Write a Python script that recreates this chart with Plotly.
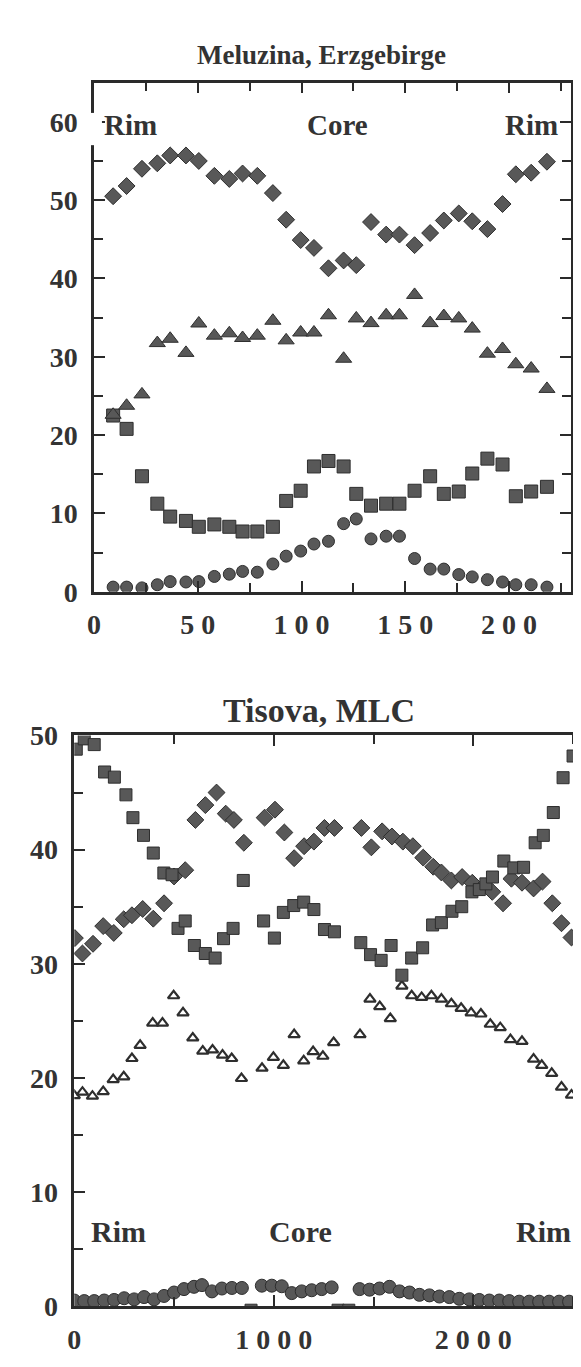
import plotly.graph_objects as go

# ---------------- Meluzina, Erzgebirge (top panel) ----------------
mel_x = [9.2, 15.7, 23.1, 30.5, 36.7, 44.3, 50.5, 58.0, 65.2, 71.6, 78.7, 86.2, 92.6,
         99.6, 106.0, 113.0, 120.3, 126.4, 133.5, 140.8, 147.2, 154.5, 162.0, 168.6,
         175.8, 182.3, 189.6, 196.9, 203.3, 210.7, 218.3]
mel_diamond = [50.5, 51.8, 54.0, 54.7, 55.7, 55.7, 55.0, 53.1, 52.7, 53.4, 53.1, 50.9, 47.5,
               44.9, 43.9, 41.3, 42.3, 41.7, 47.2, 45.6, 45.6, 44.25, 45.8, 47.4,
               48.3, 47.3, 46.3, 49.5, 53.3, 53.5, 54.9]
mel_triangle = [22.6, 23.75, 25.2, 31.75, 32.3, 30.5, 34.25, 32.7, 33.0, 32.4, 32.7, 34.6, 32.1,
                33.1, 33.1, 35.3, 29.75, 34.9, 34.3, 35.3, 35.3, 37.9, 34.3, 35.2,
                34.9, 33.6, 30.4, 31.0, 29.05, 28.5, 25.9]
mel_square = [22.5, 20.8, 14.75, 11.25, 9.6, 9.05, 8.3, 8.6, 8.3, 7.7, 7.7, 8.3, 11.6,
              12.9, 16.0, 16.7, 16.0, 12.5, 11.0, 11.25, 11.25, 12.9, 14.75, 12.5,
              12.8, 15.1, 17.0, 16.25, 12.2, 12.8, 13.4]
mel_circle = [0.6, 0.6, 0.5, 0.9, 1.3, 1.25, 1.3, 1.96, 2.25, 2.6, 2.5, 3.55, 4.55,
              5.2, 6.1, 6.45, 8.7, 9.3, 6.75, 7.1, 7.1, 4.25, 2.9, 2.9,
              2.2, 1.9, 1.55, 1.25, 0.9, 0.9, 0.6]
mel_xtick_vals = [0, 50, 100, 150, 200]
mel_xtick_text = ["0", "5 0", "1 0 0", "1 5 0", "2 0 0"]
mel_ytick_vals = [0, 10, 20, 30, 40, 50, 60]

# ---------------- Tisova, MLC (bottom panel) ----------------
tis_sq_x = [10, 50, 100, 152, 201, 259, 294, 347, 396, 449, 490, 520, 556, 602, 657, 706,
            748, 796, 847, 886, 949, 1003, 1048, 1100, 1150, 1201, 1254, 1304, 1322, 1376,
            1436, 1485, 1538, 1588, 1642, 1691, 1746, 1796, 1840, 1893, 1942, 1993, 2030,
            2063, 2096, 2153, 2203, 2252, 2310, 2351, 2401, 2450, 2500]
tis_sq_y = [48.8, 49.7, 49.2, 46.8, 46.35, 44.8, 42.8, 41.25, 39.7, 37.95, 37.8, 33.1, 33.75,
            31.6, 30.9, 30.5, 32.2, 33.1, 37.3, -0.35, 33.75, 32.25, 34.5, 35.1, 35.4, 34.75,
            33.0, 32.8, -0.35, -0.35, 31.85, 30.8, 30.3, 31.6, 29.0, 30.5, 31.4, 33.4, 33.6,
            34.6, 35.0, 36.3, 36.5, 37.0, 37.6, 39.0, 38.4, 38.45, 40.6, 41.25, 43.25, 46.3,
            48.2]
tis_di_x = [3, 41, 94, 145, 198, 248, 289, 343, 396, 450, 500, 556, 607, 657, 713, 759, 800,
            850, 954, 1006, 1053, 1102, 1152, 1201, 1254, 1304, 1439, 1489, 1543, 1592, 1647,
            1697, 1749, 1799, 1840, 1890, 1944, 1995, 2045, 2095, 2149, 2191, 2244, 2302,
            2347, 2396, 2442, 2492]
tis_di_y = [32.25, 30.9, 31.75, 33.3, 32.7, 33.9, 34.25, 34.8, 33.95, 35.3, 37.65, 38.2, 42.6,
            43.9, 45.0, 43.15, 42.6, 40.6, 42.8, 43.5, 41.5, 39.25, 40.3, 40.7, 41.9, 41.9,
            41.9, 40.2, 41.6, 41.15, 40.7, 40.3, 39.3, 38.5, 38.0, 37.3, 37.6, 37.1, 36.7,
            36.3, 35.3, 37.45, 37.1, 36.6, 37.2, 35.3, 33.55, 32.3]
tis_tr_x = [0, 41, 91, 145, 195, 248, 289, 330, 393, 442, 498, 545, 594, 644, 693, 743, 789,
            838, 941, 998, 1048, 1102, 1150, 1197, 1246, 1300, 1432, 1482, 1531, 1584, 1642,
            1691, 1741, 1790, 1840, 1890, 1939, 1989, 2038, 2085, 2135, 2186, 2244, 2302,
            2343, 2393, 2442, 2492]
tis_tr_y = [18.45, 18.75, 18.4, 18.8, 19.85, 20.1, 21.7, 22.85, 24.8, 24.8, 27.2, 25.7, 23.5,
            22.35, 22.45, 22.0, 21.7, 19.95, 20.85, 21.8, 21.1, 23.8, 21.5, 22.3, 21.9, 23.1,
            23.8, 26.9, 26.25, 25.2, 28.05, 27.2, 27.05, 27.2, 26.9, 26.5, 26.1, 25.7, 25.6,
            24.7, 24.4, 23.35, 23.2, 21.65, 21.1, 20.4, 19.2, 18.5]
tis_ci_x = [0, 50, 100, 150, 200, 250, 300, 350, 400, 450, 500, 550, 600, 640, 690, 740, 790,
            840, 940, 990, 1040, 1090, 1140, 1190, 1240, 1290, 1430, 1480, 1530, 1580, 1630,
            1680, 1730, 1780, 1830, 1880, 1930, 1980, 2030, 2080, 2130, 2180, 2230, 2280,
            2330, 2380, 2430, 2480]
tis_ci_y = [0.5, 0.45, 0.45, 0.5, 0.55, 0.7, 0.6, 0.8, 0.6, 0.9, 1.2, 1.5, 1.7, 1.85, 1.3,
            1.55, 1.6, 1.6, 1.8, 1.8, 1.75, 1.15, 1.3, 1.4, 1.5, 1.65, 1.5, 1.45, 1.55, 1.7,
            1.3, 1.2, 1.0, 0.95, 0.85, 0.8, 0.65, 0.6, 0.55, 0.5, 0.5, 0.45, 0.4, 0.4, 0.4,
            0.4, 0.4, 0.4]
tis_xtick_vals = [0, 1000, 2000]
tis_xtick_text = ["0", "1 0 0 0", "2 0 0 0"]
tis_ytick_vals = [0, 10, 20, 30, 40, 50]

FILL = "#585858"
EDGE = "#2e2e2e"
AX = "#2a2a2a"
FONT = "Liberation Serif"

W, H = 581, 1367
def px_x(p):
    return p / W
def px_y(p):
    return 1 - p / H

fig = go.Figure()

def mk(symbol, size, fill=FILL, lw=1):
    return dict(symbol=symbol, size=size, color=fill, line=dict(color=EDGE, width=lw))

# top panel traces
fig.add_trace(go.Scatter(x=mel_x, y=mel_square, mode="markers", marker=mk("square", 13), xaxis="x", yaxis="y"))
fig.add_trace(go.Scatter(x=mel_x, y=mel_circle, mode="markers", marker=mk("circle", 12), xaxis="x", yaxis="y"))
fig.add_trace(go.Scatter(x=mel_x, y=mel_triangle, mode="markers", marker=mk("triangle-up", 14), xaxis="x", yaxis="y"))
fig.add_trace(go.Scatter(x=mel_x, y=mel_diamond, mode="markers", marker=mk("diamond", 13), xaxis="x", yaxis="y"))

# bottom panel traces
fig.add_trace(go.Scatter(x=tis_ci_x, y=tis_ci_y, mode="markers", marker=mk("circle", 13), xaxis="x2", yaxis="y2"))
fig.add_trace(go.Scatter(x=tis_tr_x, y=tis_tr_y, mode="markers",
                         marker=dict(symbol="triangle-up-open", size=10, color=EDGE, line=dict(color=EDGE, width=2.2)),
                         xaxis="x2", yaxis="y2"))
fig.add_trace(go.Scatter(x=tis_di_x, y=tis_di_y, mode="markers", marker=mk("diamond", 13), xaxis="x2", yaxis="y2"))
fig.add_trace(go.Scatter(x=tis_sq_x, y=tis_sq_y, mode="markers", marker=mk("square", 12), xaxis="x2", yaxis="y2"))

tickfont = dict(family=FONT, size=28, color="#333", weight="bold")

def axis_common():
    return dict(showline=True, linecolor=AX, linewidth=2.5, mirror="allticks", ticks="inside",
                tickwidth=2, tickcolor=AX, ticklen=11, showgrid=False, zeroline=False,
                tickfont=tickfont, fixedrange=True)

fig.update_layout(
    width=W, height=H, margin=dict(l=0, r=0, t=0, b=0),
    paper_bgcolor="white", plot_bgcolor="white", showlegend=False,
    xaxis=dict(**axis_common(), domain=[px_x(80), px_x(563)], range=[0, 230],
               tickmode="array", tickvals=mel_xtick_vals, ticktext=mel_xtick_text,
               minor=dict(tickmode="linear", tick0=0, dtick=25, ticks="inside", ticklen=9,
                          tickwidth=2, tickcolor=AX),
               anchor="y", ticklabelstandoff=6),
    yaxis=dict(**axis_common(), domain=[px_y(582), px_y(61)], range=[0, 65],
               tickmode="array", tickvals=mel_ytick_vals,
               minor=dict(tickmode="linear", tick0=0, dtick=5, ticks="inside", ticklen=9,
                          tickwidth=2, tickcolor=AX),
               anchor="x", ticklabelstandoff=8),
    xaxis2=dict(**axis_common(), domain=[px_x(60), px_x(578)], range=[0, 2565],
                tickmode="array", tickvals=tis_xtick_vals, ticktext=tis_xtick_text,
                minor=dict(tickmode="linear", tick0=0, dtick=500, ticks="inside", ticklen=9,
                           tickwidth=2, tickcolor=AX),
                anchor="y2", ticklabelstandoff=6),
    yaxis2=dict(**axis_common(), domain=[px_y(1313), px_y(729)], range=[0, 50],
                tickmode="array", tickvals=tis_ytick_vals,
                minor=dict(tickmode="linear", tick0=0, dtick=5, ticks="inside", ticklen=9,
                           tickwidth=2, tickcolor=AX),
                anchor="x2", ticklabelstandoff=8),
)

# white gap in the left frame line behind the upper-left "Rim" label
fig.add_shape(type="rect", xref="paper", yref="paper", layer="above",
              x0=px_x(76), x1=px_x(88), y0=px_y(125), y1=px_y(92),
              fillcolor="white", line=dict(width=0))

def label(text, x, y, size):
    fig.add_annotation(text=text, x=px_x(x), y=px_y(y), xref="paper", yref="paper",
                       showarrow=False, xanchor="center", yanchor="middle",
                       font=dict(family=FONT, size=size, color="#333", weight="bold"))

label("Meluzina, Erzgebirge", 310, 33, 27)
label("Rim", 117, 104, 29)
label("Core", 326, 104, 29)
label("Rim", 523, 104, 29)

label("Tisova, MLC", 308, 703, 34)
label("Rim", 105, 1237, 30)
label("Core", 289, 1237, 30)
label("Rim", 535, 1237, 30)

fig.write_html("out.html")
